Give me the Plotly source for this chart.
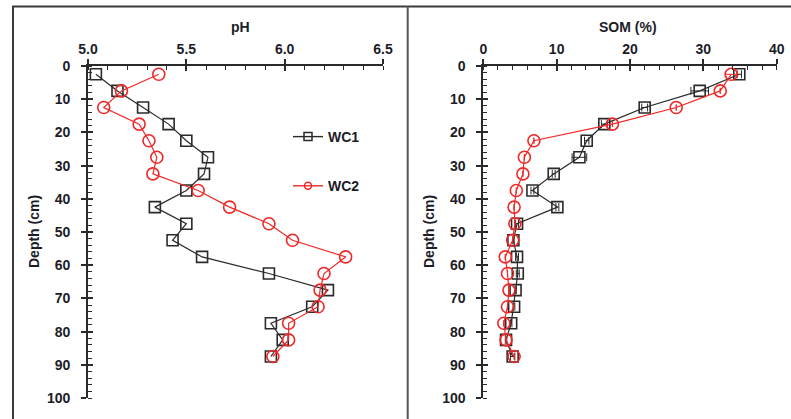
import plotly.graph_objects as go

# ---------------- data ----------------
DEPTH = [2.5, 7.5, 12.5, 17.5, 22.5, 27.5, 32.5, 37.5, 42.5, 47.5,
         52.5, 57.5, 62.5, 67.5, 72.5, 77.5, 82.5, 87.5]

PH_WC1 = [5.04, 5.15, 5.28, 5.41, 5.50, 5.61, 5.59, 5.50, 5.34, 5.50,
          5.43, 5.58, 5.92, 6.22, 6.14, 5.93, 5.99, 5.93]
PH_WC2 = [5.36, 5.17, 5.08, 5.26, 5.31, 5.35, 5.33, 5.56, 5.72, 5.92,
          6.04, 6.31, 6.20, 6.18, 6.17, 6.02, 6.02, 5.94]

SOM_WC1 = [34.9, 29.5, 22.0, 16.5, 14.1, 13.1, 9.6, 6.7, 10.1, 4.6,
           4.1, 4.6, 4.7, 4.4, 4.2, 3.8, 3.1, 4.0]
SOM_WC1_ERR = [0.3, 1.2, 0.4, 0.4, 0.3, 1.0, 0.2, 0.2, 0.2, 0.2,
               0.1, 0.2, 0.2, 0.1, 0.1, 0.1, 0.1, 0.3]
SOM_WC2 = [33.8, 32.3, 26.3, 17.6, 6.9, 5.6, 5.4, 4.5, 4.2, 4.3,
           4.0, 3.0, 3.3, 3.5, 3.3, 2.8, 3.1, 4.2]
SOM_WC2_ERR = [0.8, 0, 0, 0, 0, 0, 0, 0, 0, 0,
               0, 0, 0, 0, 0, 0, 0, 0]

PH_TICKS = [5.0, 5.5, 6.0, 6.5]
PH_TICK_TEXT = ["5.0", "5.5", "6.0", "6.5"]
SOM_TICKS = [0, 10, 20, 30, 40]
DEPTH_TICKS = [0, 10, 20, 30, 40, 50, 60, 70, 80, 90, 100]

SERIES = ["WC1", "WC2"]
# --------------------------------------

W, H = 791, 419
BLACK = "#2a2a2a"
RED = "#f02828"
TXT = "#1c1c28"
FONT = "Liberation Sans, Arial, sans-serif"


def px(x):
    return x / W


def py(y):
    return 1 - y / H


fig = go.Figure()

# pH panel
fig.add_trace(go.Scatter(x=PH_WC1, y=DEPTH, mode="lines+markers", name=SERIES[0],
                         line=dict(color=BLACK, width=1.2),
                         marker=dict(symbol="square-open", size=11, color=BLACK, line=dict(width=1.6)),
                         xaxis="x", yaxis="y", showlegend=False))
fig.add_trace(go.Scatter(x=PH_WC2, y=DEPTH, mode="lines+markers", name=SERIES[1],
                         line=dict(color=RED, width=1.2),
                         marker=dict(symbol="circle-open", size=12, color=RED, line=dict(width=1.6)),
                         xaxis="x", yaxis="y", showlegend=False))

# SOM panel
fig.add_trace(go.Scatter(x=SOM_WC1, y=DEPTH, mode="lines+markers", name=SERIES[0],
                         line=dict(color=BLACK, width=1.2),
                         error_x=dict(type="data", array=SOM_WC1_ERR, color=BLACK, thickness=1, width=4),
                         marker=dict(symbol="square-open", size=11, color=BLACK, line=dict(width=1.6)),
                         xaxis="x2", yaxis="y2", showlegend=False))
fig.add_trace(go.Scatter(x=SOM_WC2, y=DEPTH, mode="lines+markers", name=SERIES[1],
                         line=dict(color=RED, width=1.2),
                         error_x=dict(type="data", array=SOM_WC2_ERR, color=RED, thickness=1, width=3),
                         marker=dict(symbol="circle-open", size=12, color=RED, line=dict(width=1.6)),
                         xaxis="x2", yaxis="y2", showlegend=False))

# legend entries (smaller markers as in reference)
fig.add_trace(go.Scatter(x=[None], y=[None], mode="lines+markers", name=SERIES[0],
                         legendgroup="a",
                         line=dict(color=BLACK, width=1.4),
                         marker=dict(symbol="square-open", size=8, color=BLACK, line=dict(width=1.5)),
                         xaxis="x", yaxis="y"))
fig.add_trace(go.Scatter(x=[None], y=[None], mode="lines+markers", name=SERIES[1],
                         legendgroup="b",
                         line=dict(color=RED, width=1.4),
                         marker=dict(symbol="circle-open", size=7, color=RED, line=dict(width=1.5)),
                         xaxis="x", yaxis="y"))

# overlay axes for inward part of major ticks
for xa, ya in (("x3", "y3"), ("x4", "y4")):
    fig.add_trace(go.Scatter(x=[None], y=[None], xaxis=xa, yaxis=ya, showlegend=False,
                             hoverinfo="skip"))

y_dom = [py(398), py(66)]
x1_dom = [px(88), px(383)]
x2_dom = [px(483.3), px(776.7)]

tickfont = dict(family=FONT, size=14, color=TXT, weight="bold")

common_x = dict(side="top", showline=True, linecolor=BLACK, linewidth=1.8,
                ticks="outside", ticklen=5, tickwidth=1.8, tickcolor=BLACK,
                showgrid=False, zeroline=False, tickfont=tickfont, automargin=False)
common_y = dict(autorange=False, range=[100, 0], showline=True, linecolor=BLACK, linewidth=1.8,
                ticks="outside", ticklen=5, tickwidth=1.8, tickcolor=BLACK,
                showgrid=False, zeroline=False, tickfont=tickfont, automargin=False,
                tickmode="array", tickvals=DEPTH_TICKS, domain=y_dom,
                minor=dict(ticks="inside", ticklen=4, tickwidth=1.2, tickcolor=BLACK, dtick=2,
                           showgrid=False),
                ticklabelstandoff=8)

overlay = dict(ticks="inside", ticklen=5, tickwidth=1.8, tickcolor=BLACK, tickmode="array",
               showticklabels=False, showline=False, showgrid=False, zeroline=False,
               automargin=False)

fig.update_layout(
    width=W, height=H,
    margin=dict(l=0, r=0, t=0, b=0, autoexpand=False),
    paper_bgcolor="white", plot_bgcolor="white",
    font=dict(family=FONT, size=14, color=TXT),
    xaxis=dict(common_x, domain=x1_dom, range=[5.0, 6.5], anchor="y",
               tickmode="array", tickvals=PH_TICKS, ticktext=PH_TICK_TEXT,
               minor=dict(ticks="inside", ticklen=4, tickwidth=1.2, tickcolor=BLACK, dtick=0.1,
                          showgrid=False)),
    yaxis=dict(common_y, anchor="x"),
    xaxis2=dict(common_x, domain=x2_dom, range=[0, 40], anchor="y2",
                tickmode="array", tickvals=SOM_TICKS,
                minor=dict(ticks="inside", ticklen=4, tickwidth=1.2, tickcolor=BLACK, dtick=2,
                           showgrid=False)),
    yaxis2=dict(common_y, anchor="x2"),
    # overlay axes: inward major ticks
    xaxis3=dict(overlay, overlaying="x", side="top", range=[5.0, 6.5], anchor="y3", tickvals=PH_TICKS),
    yaxis3=dict(overlay, overlaying="y", range=[100, 0], anchor="x3", tickvals=DEPTH_TICKS),
    xaxis4=dict(overlay, overlaying="x2", side="top", range=[0, 40], anchor="y4", tickvals=SOM_TICKS),
    yaxis4=dict(overlay, overlaying="y2", range=[100, 0], anchor="x4", tickvals=DEPTH_TICKS),
    legend=dict(x=px(288), y=py(121), xanchor="left", yanchor="top",
                bgcolor="rgba(0,0,0,0)", tracegroupgap=28,
                font=dict(family=FONT, size=14, color=TXT, weight="bold")),
    showlegend=True,
)

# axis titles
title_font = dict(family=FONT, size=14, color=TXT, weight="bold")
fig.add_annotation(text="pH", x=px(240), y=py(27), xref="paper", yref="paper",
                   xanchor="center", yanchor="middle", showarrow=False, font=title_font)
fig.add_annotation(text="SOM (%)", x=px(628), y=py(27), xref="paper", yref="paper",
                   xanchor="center", yanchor="middle", showarrow=False, font=title_font)
for xx in (34, 429):
    fig.add_annotation(text="Depth (cm)", x=px(xx), y=py(232), xref="paper", yref="paper",
                       xanchor="center", yanchor="middle",
                       showarrow=False, textangle=-90, font=title_font)

# frame lines
frame = dict(color="#3a3a3a", width=2)
fig.add_shape(type="line", xref="paper", yref="paper", x0=px(12), x1=1, y0=py(6.5), y1=py(6.5), line=frame)
fig.add_shape(type="line", xref="paper", yref="paper", x0=px(13), x1=px(13), y0=py(6), y1=0, line=frame)
fig.add_shape(type="line", xref="paper", yref="paper", x0=px(407.7), x1=px(407.7), y0=py(6), y1=0,
              line=dict(color="#555555", width=2))

fig.write_html("out.html")
